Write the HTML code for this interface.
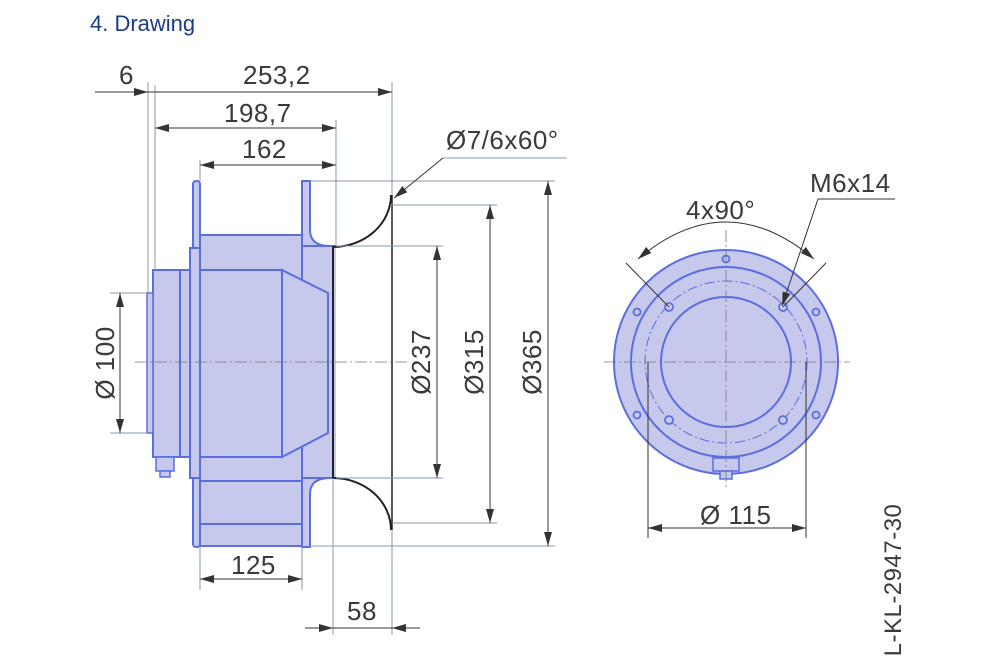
<!DOCTYPE html>
<html><head><meta charset="utf-8"><style>
html,body{margin:0;padding:0;background:#fff;width:1000px;height:665px;overflow:hidden}
svg{display:block}
text{font-family:"Liberation Sans",sans-serif;fill:#3a3a3a}
</style></head><body>
<svg width="1000" height="665" viewBox="0 0 1000 665" xmlns="http://www.w3.org/2000/svg">
<defs>
<marker id="a" viewBox="0 0 14 8" refX="14" refY="4" markerWidth="14" markerHeight="8" orient="auto-start-reverse" markerUnits="userSpaceOnUse"><path d="M0,0L14,4L0,8z" fill="#333"/></marker>
</defs>
<text x="90" y="31" font-size="22" style="fill:#1a3a8a">4.  Drawing</text>

<g stroke="#5b6ee0" stroke-width="2" fill="#c6c9ec">
<rect x="200" y="235" width="102" height="311"/>
<path d="M302,246 L336,246 L336,478 L302,478 Z" stroke="none"/>
<line x1="302" y1="246" x2="336" y2="246"/>
<line x1="302" y1="478" x2="336" y2="478"/>
<rect x="193" y="181" width="7" height="366" rx="3"/>
<path d="M302,181 L310,181 L310,230 Q310,246 330,246 L302,246 Z"/>
<path d="M302,547 L310,547 L310,494 Q310,478 330,478 L302,478 Z"/>
<line x1="302" y1="181" x2="302" y2="547"/>
<rect x="190" y="248" width="10" height="230"/>
<rect x="180" y="270" width="10" height="187"/>
<rect x="153" y="270" width="27" height="187"/>
<rect x="147" y="293" width="6" height="140" stroke-width="1.5"/>
<rect x="200" y="270" width="82" height="187"/>
<path d="M282,270 L282,457 L328,433 L328,293 Z"/>
<rect x="156" y="457" width="18" height="14" stroke-width="1.5"/>
<rect x="160" y="471" width="10" height="6" stroke-width="1.5"/>
<line x1="200" y1="524" x2="302" y2="524"/>
<line x1="200" y1="481" x2="302" y2="481"/>
</g>
<g stroke="#222" stroke-width="2" fill="none">
<path d="M333,478 L333,247 A58,52 0 0 0 391,195"/>
<path d="M333,478 A58,52 0 0 1 391,530"/>
<line x1="392" y1="195" x2="392" y2="530" stroke-width="1.5"/>
</g>
<line x1="135" y1="362" x2="410" y2="362" stroke="#777" stroke-width="0.8" stroke-dasharray="12,3,2,3"/>

<g stroke="#8a9ab0" stroke-width="1" fill="none">
<line x1="148" y1="82" x2="148" y2="293"/>
<line x1="155" y1="85" x2="155" y2="270"/>
<line x1="392" y1="82" x2="392" y2="195"/>
<line x1="336" y1="120" x2="336" y2="246"/>
<line x1="200" y1="160" x2="200" y2="181"/>
<line x1="310" y1="181" x2="555" y2="181"/>
<line x1="390" y1="205" x2="497" y2="205"/>
<line x1="336" y1="246" x2="443" y2="246"/>
<line x1="336" y1="478" x2="443" y2="478"/>
<line x1="392" y1="523" x2="497" y2="523"/>
<line x1="310" y1="546" x2="555" y2="546"/>
<line x1="110" y1="293" x2="147" y2="293"/>
<line x1="110" y1="433" x2="147" y2="433"/>
<line x1="200" y1="547" x2="200" y2="590"/>
<line x1="302" y1="547" x2="302" y2="590"/>
<line x1="333" y1="478" x2="333" y2="635"/>
<line x1="392" y1="530" x2="392" y2="635"/>
<line x1="443" y1="158" x2="567" y2="158"/>
</g>
<g stroke="#333" stroke-width="1" fill="none">
<line x1="95" y1="92" x2="148" y2="92" marker-end="url(#a)"/>
<line x1="148" y1="92" x2="392" y2="92" marker-end="url(#a)"/>
<line x1="155" y1="128" x2="336" y2="128" marker-start="url(#a)" marker-end="url(#a)"/>
<line x1="200" y1="165" x2="336" y2="165" marker-start="url(#a)" marker-end="url(#a)"/>
<line x1="120" y1="293" x2="120" y2="433" marker-start="url(#a)" marker-end="url(#a)"/>
<line x1="437" y1="246" x2="437" y2="478" marker-start="url(#a)" marker-end="url(#a)"/>
<line x1="490" y1="205" x2="490" y2="523" marker-start="url(#a)" marker-end="url(#a)"/>
<line x1="548" y1="181" x2="548" y2="546" marker-start="url(#a)" marker-end="url(#a)"/>
<line x1="200" y1="579" x2="302" y2="579" marker-start="url(#a)" marker-end="url(#a)"/>
<line x1="305" y1="628" x2="333" y2="628" marker-end="url(#a)"/>
<line x1="420" y1="628" x2="392" y2="628" marker-end="url(#a)"/>
<line x1="333" y1="628" x2="392" y2="628"/>
<line x1="443" y1="158" x2="394" y2="198" marker-end="url(#a)"/>
</g>
<g font-size="26" letter-spacing="0.5">
<text x="119" y="84">6</text>
<text x="243" y="84">253,2</text>
<text x="224" y="122">198,7</text>
<text x="242" y="158">162</text>
<text x="446" y="149">Ø7/6x60°</text>
<text x="231" y="574">125</text>
<text x="347" y="620">58</text>
<text transform="translate(114,363) rotate(-90)" text-anchor="middle">Ø 100</text>
<text transform="translate(430,362) rotate(-90)" text-anchor="middle">Ø237</text>
<text transform="translate(483,362) rotate(-90)" text-anchor="middle">Ø315</text>
<text transform="translate(541,362) rotate(-90)" text-anchor="middle">Ø365</text>
<text x="686" y="219">4x90°</text>
<text x="810" y="192">M6x14</text>
<text x="700" y="524">Ø 115</text>
<text transform="translate(901,580) rotate(-90)" text-anchor="middle" font-size="24">L-KL-2947-30</text>
</g>

<g stroke="#5b6ee0" stroke-width="2" fill="#c6c9ec">
<circle cx="726" cy="362" r="112"/>
<circle cx="726" cy="362" r="95"/>
<circle cx="726" cy="362" r="65"/>
<rect x="713" y="458" width="26" height="13" stroke-width="1.5"/>
<rect x="720" y="471" width="12" height="8" stroke-width="1.5"/>
</g>
<circle cx="726" cy="362" r="81" stroke="#5b6ee0" stroke-width="1" fill="none" stroke-dasharray="10,3,2,3"/>
<g stroke="#5b6ee0" stroke-width="1.8" fill="#c6c9ec">
<circle cx="726" cy="259" r="3.5"/>
<circle cx="637" cy="312" r="3.5"/><circle cx="637" cy="415" r="3.5"/>
<circle cx="816" cy="312" r="3.5"/><circle cx="816" cy="415" r="3.5"/>
<circle cx="669" cy="307" r="4"/><circle cx="783" cy="307" r="4"/>
<circle cx="669" cy="420" r="4"/><circle cx="783" cy="420" r="4"/>
</g>
<g stroke="#777" stroke-width="0.8" stroke-dasharray="12,3,2,3">
<line x1="604" y1="362" x2="850" y2="362"/>
<line x1="726" y1="230" x2="726" y2="490"/>
</g>
<g stroke="#333" stroke-width="1" fill="none">
<line x1="626" y1="263" x2="669" y2="307"/>
<line x1="826" y1="263" x2="783" y2="307"/>
<path d="M638,259 Q726,185 814,259" marker-start="url(#a)" marker-end="url(#a)"/>
<line x1="895" y1="199" x2="818" y2="199"/>
<line x1="818" y1="199" x2="782" y2="306" marker-end="url(#a)"/>
<line x1="648" y1="362" x2="648" y2="538"/>
<line x1="806" y1="362" x2="806" y2="538"/>
<line x1="648" y1="528" x2="806" y2="528" marker-start="url(#a)" marker-end="url(#a)"/>
</g>
</svg>
</body></html>
